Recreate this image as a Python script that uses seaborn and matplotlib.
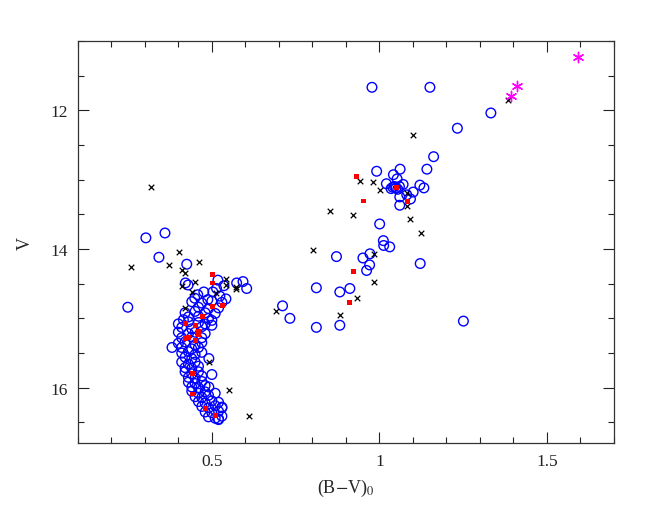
import matplotlib
matplotlib.use("Agg")
import matplotlib.pyplot as plt
import seaborn as sns
import pandas as pd
from matplotlib.ticker import MultipleLocator

# ---------------- data ----------------
# blue open circles
circ_x = [0.249, 0.303, 0.360, 0.342, 0.425,
          0.978, 1.151, 1.333, 1.233, 1.162, 1.142, 1.062, 0.992, 1.042, 1.053,
          1.021, 1.040, 1.045, 1.050, 1.060, 1.035, 1.055, 1.071, 1.121, 1.133,
          1.101, 1.093, 1.061, 1.082, 1.061, 1.001, 1.012, 1.013, 1.031, 0.972,
          0.951, 0.971, 0.962, 0.872, 1.122, 0.812, 0.882, 0.912, 0.711, 0.733,
          0.812, 0.882, 1.251,
          0.518, 0.536, 0.574, 0.593, 0.604, 0.514, 0.476, 0.503, 0.524, 0.542,
          0.488, 0.421, 0.429, 0.449, 0.458,
          0.44, 0.47, 0.50, 0.53, 0.46, 0.49, 0.52, 0.45,
          0.42, 0.48, 0.51, 0.43, 0.46, 0.49, 0.415, 0.50,
          0.40, 0.43, 0.46, 0.48, 0.41, 0.44, 0.47, 0.50,
          0.40, 0.43, 0.45, 0.48, 0.41, 0.44, 0.47,
          0.40, 0.42, 0.45, 0.47, 0.41, 0.44, 0.46,
          0.41, 0.43, 0.45, 0.47, 0.42, 0.44,
          0.41, 0.43, 0.45, 0.42, 0.44, 0.46,
          0.42, 0.44, 0.46, 0.43, 0.45, 0.47,
          0.43, 0.45, 0.47, 0.44, 0.46, 0.48,
          0.44, 0.46, 0.48, 0.45, 0.47, 0.49, 0.51,
          0.46, 0.48, 0.50, 0.52, 0.47, 0.49, 0.51, 0.53,
          0.48, 0.50, 0.52, 0.49, 0.51, 0.53, 0.52,
          0.381, 0.491, 0.500, 0.491, 0.530, 0.520]
circ_y = [14.84, 13.84, 13.77, 14.12, 14.22,
          11.67, 11.67, 12.04, 12.26, 12.67, 12.85, 12.85, 12.88, 12.93, 12.99,
          13.06, 13.11, 13.10, 13.12, 13.10, 13.13, 13.14, 13.07, 13.08, 13.12,
          13.18, 13.28, 13.25, 13.22, 13.37, 13.64, 13.88, 13.95, 13.97, 14.07,
          14.13, 14.23, 14.31, 14.11, 14.21, 14.56, 14.62, 14.57, 14.82, 15.00,
          15.13, 15.10, 15.04,
          14.45, 14.53, 14.49, 14.47, 14.57, 14.57, 14.62, 14.62, 14.68, 14.72,
          14.73, 14.49, 14.52, 14.71, 14.66,
          14.76, 14.78, 14.75, 14.77, 14.84, 14.86, 14.85, 14.90,
          14.92, 14.92, 14.93, 14.98, 14.97, 15.00, 15.02, 15.03,
          15.08, 15.05, 15.06, 15.08, 15.13, 15.15, 15.12, 15.10,
          15.20, 15.22, 15.20, 15.22, 15.28, 15.27, 15.28,
          15.36, 15.34, 15.38, 15.35, 15.42, 15.44, 15.42,
          15.50, 15.48, 15.52, 15.49, 15.56, 15.58,
          15.63, 15.66, 15.63, 15.71, 15.72, 15.69,
          15.77, 15.80, 15.77, 15.85, 15.86, 15.83,
          15.92, 15.94, 15.91, 15.99, 16.00, 15.97,
          16.05, 16.08, 16.06, 16.13, 16.14, 16.11, 16.08,
          16.20, 16.22, 16.19, 16.21, 16.27, 16.29, 16.26, 16.28,
          16.35, 16.36, 16.34, 16.42, 16.44, 16.41, 16.46,
          15.42, 15.58, 15.81, 15.99, 16.29, 16.45]

# black crosses
cross_x = [1.384, 1.100, 0.942, 0.981, 1.001, 1.082, 1.082, 0.852, 0.922, 1.092,
           1.123, 0.802, 0.983, 0.983, 0.932, 0.882, 0.690,
           0.318, 0.258, 0.401, 0.372, 0.411, 0.421, 0.461, 0.451, 0.411, 0.441,
           0.541, 0.541, 0.571, 0.571, 0.511, 0.421, 0.491, 0.551, 0.610]
cross_y = [11.86, 12.36, 13.02, 13.03, 13.15, 13.20, 13.38, 13.46, 13.51, 13.57,
           13.77, 14.02, 14.07, 14.48, 14.71, 14.95, 14.90,
           13.11, 14.26, 14.05, 14.23, 14.31, 14.34, 14.19, 14.48, 14.54, 14.62,
           14.43, 14.52, 14.58, 14.55, 14.64, 14.85, 15.63, 16.04, 16.41]

# red filled squares
sq_x = [0.933, 0.952, 1.052, 1.084, 0.922, 0.912,
        0.501, 0.501, 0.532, 0.502, 0.471, 0.421, 0.451, 0.461, 0.461, 0.431,
        0.421, 0.451, 0.441, 0.441, 0.481, 0.511]
sq_y = [12.95, 13.31, 13.11, 13.32, 14.32, 14.77,
        14.37, 14.49, 14.82, 14.83, 14.97, 15.07, 15.10, 15.19, 15.24, 15.28,
        15.29, 15.32, 15.79, 16.09, 16.30, 16.40]

# magenta asterisks
ast_x = [1.593, 1.410, 1.393]
ast_y = [11.24, 11.655, 11.80]

x_ticks = [0.5, 1.0, 1.5]
x_ticklabels = ["0.5", "1", "1.5"]
y_ticks = [12, 14, 16]
y_ticklabels = ["12", "14", "16"]

# ---------------- plot ----------------
sns.set_style("ticks")
plt.rcParams["font.family"] = ["Liberation Serif", "DejaVu Serif"]
plt.rcParams["mathtext.fontset"] = "stix"

fig, ax = plt.subplots(figsize=(6.6, 5.1), dpi=100)
fig.subplots_adjust(left=0.118, right=0.930, top=0.918, bottom=0.129)

df_c = pd.DataFrame({"x": circ_x, "y": circ_y})
df_x = pd.DataFrame({"x": cross_x, "y": cross_y})
df_s = pd.DataFrame({"x": sq_x, "y": sq_y})
df_a = pd.DataFrame({"x": ast_x, "y": ast_y})

sns.scatterplot(data=df_c, x="x", y="y", ax=ax, marker="o", s=48,
                facecolors="none", edgecolor="#0000ff", linewidth=1.0)
sns.scatterplot(data=df_x, x="x", y="y", ax=ax, marker="x", s=16,
                color="black", linewidth=0.9)
sns.scatterplot(data=df_s, x="x", y="y", ax=ax, marker="s", s=12,
                color="#ff0000", edgecolor="none", linewidth=0)
sns.scatterplot(data=df_a, x="x", y="y", ax=ax, marker=(6, 2, 0), s=55,
                color="#ff00ff", linewidth=1.0)

ax.set_xlim(0.1, 1.7)
ax.set_ylim(16.8, 11.0)
ax.set_xticks(x_ticks)
ax.set_xticklabels(x_ticklabels)
ax.set_yticks(y_ticks)
ax.set_yticklabels(y_ticklabels)
ax.xaxis.set_minor_locator(MultipleLocator(0.1))
ax.yaxis.set_minor_locator(MultipleLocator(0.5))
ax.tick_params(which="both", direction="in", top=True, right=True,
               colors="#222222", labelsize=12.5, width=0.8)
ax.tick_params(which="major", length=8, pad=7)
ax.tick_params(which="minor", length=4)
for sp in ax.spines.values():
    sp.set_color("#333333")
    sp.set_linewidth(0.9)

ax.set_xlabel(r"(B$-$V)$_0$", fontsize=13, labelpad=6)
ax.set_ylabel("V", fontsize=13, labelpad=12)

fig.savefig("out.png", dpi=100)
